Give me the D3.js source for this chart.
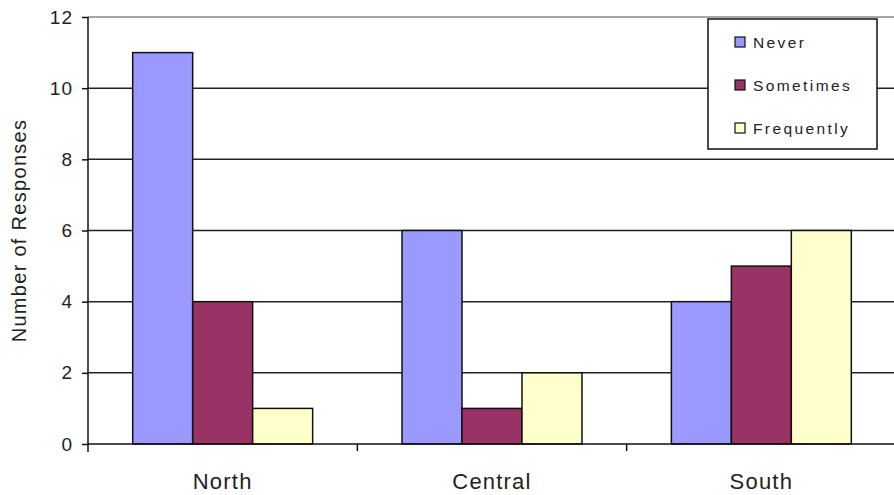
<!DOCTYPE html>
<html>
<head>
<meta charset="utf-8">
<script src="https://cdn.jsdelivr.net/npm/d3@7"></script>
<style>
  html, body { margin: 0; padding: 0; background: #fff; }
  svg { display: block; }
  text { font-family: "Liberation Sans", Arial, sans-serif; fill: #222; }
</style>
</head>
<body>
<svg id="chart" width="894" height="495"></svg>
<script>
// Survey responses by region
const regions = ["North", "Central", "South"];
const seriesNames = ["Never", "Sometimes", "Frequently"];
const never = [11, 6, 4];
const sometimes = [4, 1, 5];
const frequently = [1, 2, 6];
const yTicks = [0, 2, 4, 6, 8, 10, 12];
const seriesColors = ["#9999ff", "#993366", "#ffffcc"];

const seriesValues = [never, sometimes, frequently];

const svg = d3.select("#chart");
const W = 894, H = 495;
const plot = { left: 88, right: 896, top: 17, bottom: 444 };

const x = d3.scaleBand().domain(regions).range([plot.left, plot.right]).paddingInner(0).paddingOuter(0);
const xs = d3.scaleBand().domain(seriesNames).range([0, x.bandwidth()]).paddingInner(0).paddingOuter(0.745);
const y = d3.scaleLinear().domain([0, 12]).range([plot.bottom, plot.top]);

// Horizontal gridlines
svg.append("g")
  .selectAll("line")
  .data(yTicks.filter(t => t > 0))
  .join("line")
  .attr("x1", plot.left).attr("x2", W)
  .attr("y1", d => y(d)).attr("y2", d => y(d))
  .attr("stroke", d => d === 12 ? "#888" : "#222")
  .attr("stroke-width", 1.5);

// Bars
const groups = svg.append("g")
  .selectAll("g")
  .data(regions)
  .join("g")
  .attr("transform", d => `translate(${x(d)},0)`);

groups.selectAll("rect")
  .data((r, i) => seriesNames.map((s, k) => ({ s, k, v: seriesValues[k][i] })))
  .join("rect")
  .attr("x", d => xs(d.s))
  .attr("width", xs.bandwidth())
  .attr("y", d => y(d.v))
  .attr("height", d => y(0) - y(d.v))
  .attr("fill", d => seriesColors[d.k])
  .attr("stroke", "#111")
  .attr("stroke-width", 1.5);

// Y axis
const yAxis = d3.axisLeft(y).tickValues(yTicks).tickSize(6).tickPadding(9).tickFormat(d3.format("d"));
const ya = svg.append("g").attr("transform", `translate(${plot.left},0)`).call(yAxis);
ya.select(".domain").attr("stroke", "#111").attr("stroke-width", 1.5)
  .attr("d", `M0,${plot.top}V${plot.bottom + 8}`);
ya.selectAll(".tick line").attr("stroke", "#111").attr("stroke-width", 1.5);
ya.selectAll(".tick text")
  .style("font-size", "19px").style("fill", "#222")
  .style("letter-spacing", "1px")
  .style("font-family", "'Liberation Sans', Arial, sans-serif");

// X axis
const xa = svg.append("g").attr("transform", `translate(0,${plot.bottom})`);
xa.append("line")
  .attr("x1", plot.left).attr("x2", W)
  .attr("y1", 0).attr("y2", 0)
  .attr("stroke", "#111").attr("stroke-width", 1.5);
xa.selectAll("line.tk")
  .data(regions.slice(1))
  .join("line")
  .attr("class", "tk")
  .attr("x1", d => x(d)).attr("x2", d => x(d))
  .attr("y1", 0).attr("y2", 7)
  .attr("stroke", "#111").attr("stroke-width", 1.5);
xa.selectAll("text")
  .data(regions)
  .join("text")
  .attr("x", d => x(d) + x.bandwidth() / 2)
  .attr("y", 45)
  .attr("text-anchor", "middle")
  .style("font-size", "22px")
  .style("letter-spacing", "1.2px")
  .text(d => d);

// Y axis title
svg.append("text")
  .attr("transform", `translate(26,${(plot.top + plot.bottom) / 2}) rotate(-90)`)
  .attr("text-anchor", "middle")
  .style("font-size", "20px")
  .style("letter-spacing", "1.3px")
  .text("Number of Responses");

// Legend
const legend = svg.append("g").attr("transform", "translate(708,19)");
legend.append("rect")
  .attr("width", 169).attr("height", 130)
  .attr("fill", "#fff").attr("stroke", "#111").attr("stroke-width", 1.5);
const li = legend.selectAll("g.item")
  .data(seriesNames)
  .join("g")
  .attr("class", "item")
  .attr("transform", (d, i) => `translate(27,${23 + i * 43})`);
li.append("rect")
  .attr("x", 0).attr("y", -5)
  .attr("width", 10).attr("height", 10)
  .attr("fill", (d, i) => seriesColors[i])
  .attr("stroke", "#111").attr("stroke-width", 1.2);
li.append("text")
  .attr("x", 18).attr("y", 5.5)
  .style("font-size", "15.5px")
  .style("letter-spacing", "2.4px")
  .text(d => d);
</script>
</body>
</html>
